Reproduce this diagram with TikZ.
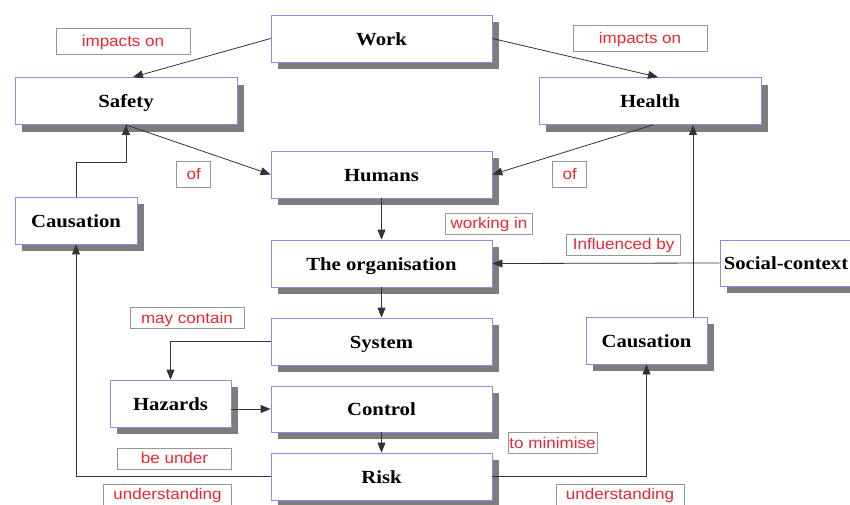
\documentclass[tikz,border=0pt]{standalone}
\usepackage{fontspec}
\usetikzlibrary{arrows.meta,shadows}
\newfontfamily\boxfont[FakeStretch=1.12]{Liberation Serif}
\newfontfamily\labfont[FakeStretch=1.1]{Liberation Sans}
\definecolor{boxedge}{RGB}{140,140,230}
\definecolor{labedge}{RGB}{150,150,150}
\definecolor{labred}{RGB}{232,40,52}
\definecolor{shade}{RGB}{125,125,125}
\begin{document}
\begin{tikzpicture}[x=1pt,y=-1pt,
  cbox/.style={draw=boxedge, line width=0.8pt, fill=white, minimum width=221pt,
    minimum height=47pt, inner sep=0pt, text height=15pt, text depth=2pt,
    font=\boxfont\bfseries\fontsize{18.5}{20}\selectfont,
    drop shadow={shadow xshift=7pt, shadow yshift=-7pt, opacity=1, fill=shade}},
  sbox/.style={cbox, minimum width=121pt},
  lab/.style={draw=labedge, line width=0.6pt, fill=white, text=labred,
    minimum height=21pt, inner sep=0pt, text height=12pt, text depth=2pt,
    font=\labfont\fontsize{15.5}{17}\selectfont},
  conn/.style={draw=black!80, line width=0.8pt},
  arr/.style={conn, -{Triangle[length=10pt,width=8pt]}}]
\useasboundingbox (0,0) rectangle (850,504);
\clip (0,0) rectangle (850,504);
\fill[white] (0,0) rectangle (850,504);

% concept boxes
\node[cbox] (work) at (381.5,38.5) {Work};
\node[cbox, minimum width=222pt] (safety) at (126,101) {Safety};
\node[cbox, minimum width=222pt] (health) at (650,101) {Health};
\node[cbox] (humans) at (381.5,174.5) {Humans};
\node[sbox, minimum width=122pt] (causL) at (76,220.5) {Causation};
\node[cbox] (org) at (381.5,263.5) {The organisation};
\node[cbox, minimum width=132pt, minimum height=46pt] (social) at (786,263) {Social-context};
\node[cbox] (system) at (381.5,341.5) {System};
\node[sbox] (causR) at (646.5,340.5) {Causation};
\node[sbox] (hazards) at (170.5,403.5) {Hazards};
\node[cbox, minimum height=46pt] (control) at (381.5,409) {Control};
\node[cbox] (risk) at (381.5,476.5) {Risk};

% link labels
\node[lab, minimum width=134pt, minimum height=26pt] (l1) at (123,41) {impacts on};
\node[lab, minimum width=134pt, minimum height=26pt] (l2) at (640,38) {impacts on};
\node[lab, minimum width=34pt, minimum height=26pt] (l3) at (193.7,174.5) {of};
\node[lab, minimum width=34pt, minimum height=26pt] (l4) at (569.7,174) {of};
\node[lab, minimum width=87pt] (l5) at (489,223.3) {working in};
\node[lab, minimum width=114pt] (l6) at (623.7,244.5) {Influenced by};
\node[lab, minimum width=114pt] (l7) at (187,318) {may contain};
\node[lab, minimum width=89pt] (l8) at (552.5,443) {to minimise};
\node[lab, minimum width=114pt] (l9) at (174.5,458.7) {be under};
\node[lab, minimum width=128pt] (l10) at (167.5,494.5) {understanding};
\node[lab, minimum width=128pt] (l11) at (620,494.5) {understanding};

% connectors
\draw[arr] (work.west) -- ([xshift=7pt]safety.north);
\draw[arr] (work.east) -- ([xshift=8pt]health.north);
\draw[arr] (safety.south) -- (humans.west);
\draw[arr] ([xshift=3pt]health.south) -- (humans.east);
\draw[arr] (causL.north) -- ++(0,-34) -| (safety.south);
\draw[arr] (humans.south) -- (org.north);
\draw[arr] (social.west) -- (org.east);
\draw[arr] (org.south) -- (system.north);
\draw[arr] (system.west) -| (hazards.north);
\draw[arr] (hazards.east |- control.west) -- (control.west);
\draw[arr] (control.south) -- (risk.north);
\draw[arr] (risk.west) -| (causL.south);
\draw[arr] (risk.east) -| (causR.south);
\coordinate (cr) at ([xshift=46.5pt]causR.north);
\draw[arr] (cr) -- (cr |- health.south);
\end{tikzpicture}
\end{document}
